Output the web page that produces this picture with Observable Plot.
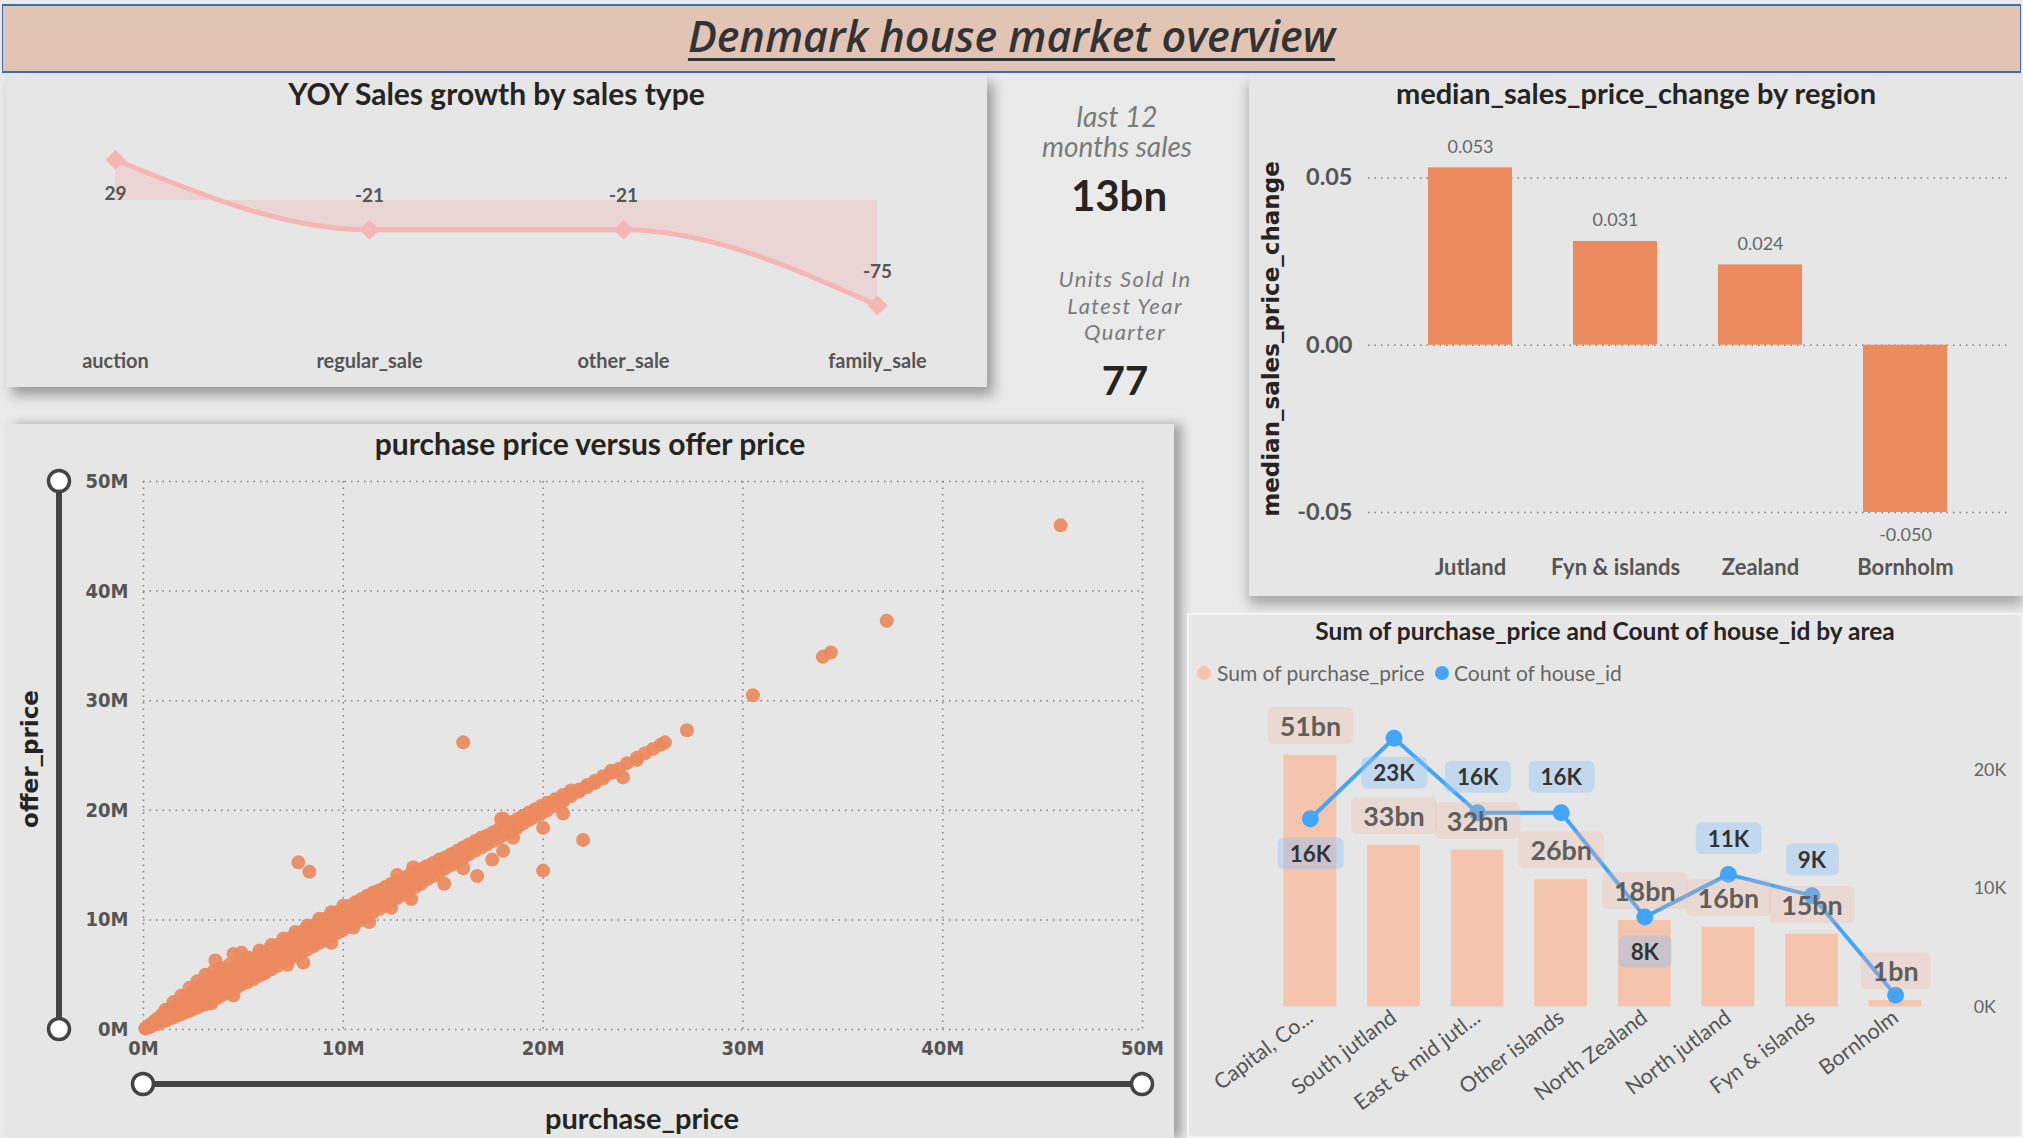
<!DOCTYPE html>
<html><head><meta charset="utf-8">
<script src="https://cdn.jsdelivr.net/npm/d3@7"></script>
<script src="https://cdn.jsdelivr.net/npm/@observablehq/plot@0.6"></script>
<style>
html,body{margin:0;padding:0;}
body{width:2023px;height:1138px;position:relative;overflow:hidden;background:#EAEAEA;font-family:Lato,"Open Sans",sans-serif;}
.panel{position:absolute;background:#E6E6E6;}
.ptitle{position:absolute;left:0;right:0;text-align:center;font-weight:700;color:#252423;font-size:30px;line-height:36px;white-space:nowrap;}
.abs{position:absolute;}
.layer{position:absolute;left:0;top:0;}
.rot{position:absolute;transform:translate(-50%,-50%) rotate(-90deg);white-space:nowrap;font-family:"DejaVu Sans",Verdana,sans-serif;font-weight:bold;color:#252423;font-size:23px;}
.kpi{position:absolute;text-align:center;white-space:nowrap;}
.kpiline{position:absolute;left:1025px;width:200px;text-align:center;white-space:nowrap;font-style:italic;color:#7a7a7a;font-size:22px;line-height:24px;letter-spacing:1.4px;}
.scatter svg text{font-stretch:condensed;}
</style></head><body>

<div id="banner" class="abs" style="left:2px;top:4px;width:2019px;height:69px;box-sizing:border-box;background:#E2C4B5;border-top:2px solid #3C6EB4;border-bottom:2px solid #3C6EB4;border-left:1px solid #3C6EB4;border-right:1px solid #3C6EB4;">
  <div style="position:absolute;left:0;right:0;top:0;text-align:center;line-height:60px;font-family:'Open Sans',sans-serif;font-style:italic;font-weight:600;font-size:43px;color:#333;">
    <span style="text-decoration:underline;text-decoration-thickness:3px;text-underline-offset:6px;">Denmark house market overview</span>
  </div>
</div>

<div id="yoyPanel" class="panel" style="left:6px;top:75px;width:981px;height:312px;box-shadow:6px 8px 12px rgba(0,0,0,0.35);">
  <div class="ptitle" style="top:0;">YOY Sales growth by sales type</div>
</div>

<div class="kpi" style="left:1017px;top:101px;width:200px;font-style:italic;color:#7a7a7a;font-size:28px;line-height:30px;">last 12<br>months sales</div>
<div id="kpi1" class="kpi" style="left:1019px;top:170px;width:200px;font-weight:700;color:#252423;font-size:42px;line-height:50px;"></div>
<div class="kpiline" style="top:267px;">Units Sold In</div>
<div class="kpiline" style="top:293.5px;">Latest Year</div>
<div class="kpiline" style="top:320px;">Quarter</div>
<div id="kpi2" class="kpi" style="left:1025px;top:355px;width:200px;font-weight:700;color:#252423;font-size:40px;line-height:50px;"></div>

<div id="medianPanel" class="panel" style="left:1249px;top:75px;width:774px;height:521px;box-shadow:0 8px 12px rgba(0,0,0,0.3);">
  <div class="ptitle" style="top:0;font-size:29px;">median_sales_price_change by region</div>
  <div class="rot" style="left:22px;top:264px;">median_sales_price_change</div>
</div>

<div id="scatterPanel" class="panel scatter" style="left:6px;top:424px;width:1168px;height:714px;box-shadow:8px 0 10px rgba(0,0,0,0.3);">
  <div class="ptitle" style="top:1px;font-size:30px;">purchase price versus offer price</div>
  <div class="rot" style="left:24px;top:335px;">offer_price</div>
  <div class="abs" style="left:0;top:676px;font-weight:700;color:#252423;font-size:29px;line-height:36px;width:1168px;">
    <span style="position:absolute;left:636px;transform:translateX(-50%);white-space:nowrap;">purchase_price</span></div>
  <svg class="layer" width="1168" height="714" style="pointer-events:none;">
    <line x1="53" y1="57" x2="53" y2="605" stroke="#444" stroke-width="6"/>
    <circle cx="53" cy="57" r="10.5" fill="#fff" stroke="#444" stroke-width="3.5"/>
    <circle cx="53" cy="605" r="10.5" fill="#fff" stroke="#444" stroke-width="3.5"/>
    <line x1="137" y1="660" x2="1136" y2="660" stroke="#444" stroke-width="6"/>
    <circle cx="137" cy="660" r="10.5" fill="#fff" stroke="#444" stroke-width="3.5"/>
    <circle cx="1136" cy="660" r="10.5" fill="#fff" stroke="#444" stroke-width="3.5"/>
  </svg>
</div>

<div id="comboPanel" class="panel" style="left:1187px;top:613px;width:836px;height:525px;box-sizing:border-box;border:2px solid #F4F4F4;">
  <div class="ptitle" style="top:0;font-size:24.5px;line-height:32px;">Sum of purchase_price and Count of house_id by area</div>
  <div class="abs" style="left:8px;top:51px;width:14px;height:14px;border-radius:50%;background:#F5C4AD;"></div>
  <div class="abs" style="left:28px;top:45px;font-size:21px;line-height:26px;color:#666;">Sum of purchase_price</div>
  <div class="abs" style="left:246px;top:51px;width:14px;height:14px;border-radius:50%;background:#41A5FA;"></div>
  <div class="abs" style="left:265px;top:45px;font-size:21px;line-height:26px;color:#666;">Count of house_id</div>
</div>

<script>
// ---------------- data ----------------
const salesTypes = ["auction", "regular_sale", "other_sale", "family_sale"];
const yoyGrowth = [29, -21, -21, -75];

const regions = ["Jutland", "Fyn & islands", "Zealand", "Bornholm"];
const medianPriceChange = [0.053, 0.031, 0.024, -0.050];
const changeTicks = [-0.05, 0, 0.05];

const areas = ["Capital, Copenhagen", "South jutland", "East & mid jutland", "Other islands", "North Zealand", "North jutland", "Fyn & islands", "Bornholm"];
const areaTickLabels = ["Capital, Co...", "South jutland", "East & mid jutl...", "Other islands", "North Zealand", "North jutland", "Fyn & islands", "Bornholm"];
const sumPurchasePriceBn = [51.2, 32.9, 31.9, 25.9, 17.6, 16.2, 14.8, 1.3];
const countHouseIdK = [15.9, 22.7, 16.4, 16.4, 7.6, 11.2, 9.4, 1.0];
const countTicksK = [0, 10, 20];

const kpiLast12MonthsSales = "13bn";
const kpiUnitsSoldLatestQuarter = 77;

const priceTicksM = [0, 10, 20, 30, 40, 50];
// purchase price (M) -> offer prices (M) read along the dense band
const priceBand = [
  [0.1,[0.1,0.1]],[0.3,[0.2,0.3,0.4]],[0.5,[0.4,0.5,0.7]],[0.7,[0.5,0.7,1.0]],[0.9,[0.7,1.0,1.3]],
  [1.1,[0.8,1.2,1.6,1.8]],[1.3,[1.0,1.4,1.8]],[1.5,[1.1,1.6,2.1,2.5]],[1.7,[1.3,1.8,2.4]],[1.9,[1.4,2.0,2.7,3.1]],
  [2.1,[1.6,2.2,2.9]],[2.3,[1.7,2.4,3.2,3.8]],[2.5,[1.9,2.6,3.5]],[2.7,[2.0,2.8,3.7,4.4]],[2.9,[2.2,3.0,4.0]],
  [3.1,[2.3,3.2,4.2,5.0]],[3.3,[2.5,3.4,4.4]],[3.5,[2.7,3.6,4.6,5.3]],[3.7,[2.9,3.8,4.8]],[3.9,[3.1,4.0,5.0,5.6]],
  [4.1,[3.3,4.2,5.2]],[4.3,[3.5,4.4,5.4,5.9]],[4.5,[3.7,4.6,5.6]],[4.7,[3.9,4.8,5.8,6.2]],[4.9,[4.1,5.0,6.0]],
  [5.2,[4.3,5.3,6.2,6.6]],[5.5,[4.6,5.6,6.5]],[5.8,[4.9,5.9,6.8,7.2]],[6.1,[5.2,6.2,7.1]],[6.4,[5.5,6.5,7.4,7.7]],
  [6.7,[5.8,6.8,7.7]],[7.0,[6.1,7.1,8.0,8.3]],[7.3,[6.4,7.4,8.3]],[7.6,[6.7,7.7,8.6,8.9]],[7.9,[7.0,8.0,8.9]],
  [8.2,[7.3,8.3,9.2,9.5]],[8.5,[7.6,8.6,9.5]],[8.8,[7.9,8.9,9.8,10.1]],[9.1,[8.2,9.2,10.1]],[9.4,[8.5,9.5,10.4,10.7]],
  [9.7,[8.8,9.8,10.7]],[10.0,[9.1,10.1,11.0,11.3]],[10.3,[9.4,10.4,11.3]],[10.6,[9.7,10.7,11.6]],[10.9,[10.0,11.0,11.9]],
  [11.2,[10.3,11.3,12.2]],[11.5,[10.7,11.6,12.5]],[11.8,[11.0,11.9,12.7]],[12.1,[11.3,12.2,13.0]],[12.4,[11.7,12.5,13.3]],
  [12.7,[12.0,12.8,13.5]],[13.0,[12.3,13.1,13.8]],[13.3,[12.7,13.4,14.1]],[13.6,[13.0,13.7,14.4]],[13.9,[13.3,14.0,14.6]],
  [14.2,[13.7,14.3,14.9]],[14.5,[14.0,14.6,15.2]],[14.8,[14.3,14.9,15.5]],[15.1,[14.7,15.2,15.7]],[15.4,[15.0,15.5,16.0]],
  [15.7,[15.3,15.8,16.3]],[16.0,[15.6,16.1,16.6]],[16.3,[16.0,16.4,16.9]],[16.6,[16.3,16.7,17.2]],[16.9,[16.6,17.0,17.5]],
  [17.2,[16.9,17.3,17.7]],[17.5,[17.2,17.6,18.0]],[17.8,[17.5,17.9,18.3]],[18.1,[17.8,18.2,18.6]],[18.4,[18.1,18.5,18.9]],
  [18.7,[18.4,18.8,19.2]],[19.0,[18.8,19.1,19.5]],[19.3,[19.1,19.4,19.8]],[19.6,[19.4,19.7,20.1]],[19.9,[19.7,20.0,20.4]],
  [20.2,[20.0,20.3,20.7]],[20.6,[20.4,20.7,21.0]],[21.0,[20.8,21.1,21.4]],[21.4,[21.3,21.5,21.8]],[21.8,[21.7,21.9]],
  [22.2,[22.1,22.3]],[22.6,[22.5,22.7]],[23.0,[22.9,23.1]],[23.4,[23.4,23.6]],[23.8,[23.8]],
  [24.2,[24.3]],[24.7,[24.8]],[25.1,[25.2]],[25.5,[25.6]],[25.9,[26.0]]
];
// isolated sales (purchase M, offer M)
const priceOutliers = [
  [3.4,2.4],[4.5,3.1],[3.6,6.3],[4.5,6.9],[4.9,7.0],[6.0,5.1],[7.2,5.9],[8.0,6.1],[9.4,7.9],[10.5,9.3],
  [11.3,9.8],[12.4,11.1],[13.4,11.9],[11.5,12.3],[12.7,14.1],[13.5,14.8],[14.1,14.8],[15.05,13.3],[16.0,14.7],
  [16.7,14.0],[17.45,15.5],[18.0,16.3],[18.5,17.5],[17.9,19.2],[18.0,19.25],[20.0,18.4],[21.0,19.7],[22.0,17.3],
  [20.0,14.5],[16.0,26.2],[7.75,15.25],[8.3,14.4],[24.0,23.0],[23.5,23.5],[24.7,24.6],[26.1,26.2],[27.2,27.3],
  [30.5,30.5],[34.0,34.0],[34.4,34.4],[37.2,37.3],[45.9,46.0]
];

// ---------------- rendering ----------------
document.getElementById("kpi1").textContent = kpiLast12MonthsSales;
document.getElementById("kpi2").textContent = String(kpiUnitsSoldLatestQuarter);

const baseStyle = {background: "transparent", overflow: "visible", fontFamily: "Lato, 'Open Sans', sans-serif"};

// YOY line chart
const yoyData = salesTypes.map((t, i) => ({type: t, value: yoyGrowth[i]}));
const yoyPlot = Plot.plot({
  width: 981, height: 312, marginTop: 0, marginRight: 0, marginBottom: 42, marginLeft: 0,
  style: baseStyle,
  x: {type: "point", domain: salesTypes, range: [109, 871], padding: 0, label: null},
  y: {domain: [-75, 29], range: [230, 84.3], axis: null},
  marks: [
    Plot.areaY(yoyData, {x: "type", y: "value", curve: "monotone-x", fill: "#F4B2B2", fillOpacity: 0.35}),
    Plot.lineY(yoyData, {x: "type", y: "value", curve: "monotone-x", stroke: "#F7B6B6", strokeWidth: 5}),
    Plot.dot(yoyData, {x: "type", y: "value", symbol: "diamond2", r: 9, fill: "#F7B6B6"}),
    Plot.text(yoyData.filter(d => d.value >= 0), {x: "type", y: "value", text: d => String(d.value), dy: 34, fontSize: 19, fontWeight: "bold", fill: "#555"}),
    Plot.text(yoyData.filter(d => d.value < 0), {x: "type", y: "value", text: d => String(d.value), dy: -34, fontSize: 19, fontWeight: "bold", fill: "#555"}),
    Plot.axisX({tickSize: 0, tickPadding: 8, fontSize: 20, fontWeight: "bold", fill: "#555", label: null})
  ]
});
yoyPlot.classList.add("layer");
document.getElementById("yoyPanel").appendChild(yoyPlot);

// Median price change bar chart
const changeData = regions.map((r, i) => ({region: r, change: medianPriceChange[i]}));
const medianPlot = Plot.plot({
  width: 774, height: 521, marginTop: 0, marginLeft: 119, marginRight: 15, marginBottom: 51,
  style: baseStyle,
  x: {domain: regions, paddingInner: 0.42, paddingOuter: 0.41, label: null},
  y: {domain: [-0.05, 0.05], range: [437, 102.4], label: null},
  marks: [
    Plot.gridY(changeTicks, {stroke: "#777", strokeOpacity: 0.9, strokeDasharray: "1.5,5", strokeWidth: 1.5}),
    Plot.barY(changeData, {x: "region", y: "change", fill: "#EB8B5E"}),
    Plot.text(changeData.filter(d => d.change >= 0), {x: "region", y: "change", text: d => d.change.toFixed(3), dy: -21, fontSize: 18, fill: "#666"}),
    Plot.text(changeData.filter(d => d.change < 0), {x: "region", y: "change", text: d => d.change.toFixed(3), dy: 23, fontSize: 18, fill: "#666"}),
    Plot.axisY(changeTicks, {tickSize: 0, tickPadding: 16, tickFormat: d => d.toFixed(2), fontSize: 23.5, fontWeight: "bold", fill: "#555", label: null}),
    Plot.axisX({tickSize: 0, tickPadding: 14, fontSize: 22, fontWeight: "bold", fill: "#555", label: null})
  ]
});
medianPlot.classList.add("layer");
document.getElementById("medianPanel").appendChild(medianPlot);

// Scatter
const scatterData = priceBand.flatMap(([p, offers]) => offers.map(o => ({purchase: p, offer: o})))
  .concat(priceOutliers.map(([p, o]) => ({purchase: p, offer: o})));
const scatterPlot = Plot.plot({
  width: 1168, height: 714, marginLeft: 137, marginRight: 32, marginTop: 57, marginBottom: 109,
  style: {...baseStyle, fontFamily: "'DejaVu Sans Condensed', 'DejaVu Sans', sans-serif"},
  x: {domain: [0, 50], label: null},
  y: {domain: [0, 50], label: null},
  marks: [
    Plot.gridX(priceTicksM, {stroke: "#777", strokeOpacity: 0.9, strokeDasharray: "1.5,5", strokeWidth: 1.5}),
    Plot.gridY(priceTicksM, {stroke: "#777", strokeOpacity: 0.9, strokeDasharray: "1.5,5", strokeWidth: 1.5}),
    Plot.dot(scatterData, {x: "purchase", y: "offer", r: 7, fill: "#EC8A5E", fillOpacity: 0.92}),
    Plot.axisX(priceTicksM, {tickSize: 0, tickPadding: 11, tickFormat: d => d + "M", fontSize: 20, fontWeight: "bold", fill: "#555", label: null}),
    Plot.axisY(priceTicksM, {tickSize: 0, tickPadding: 15, tickFormat: d => d + "M", fontSize: 20, fontWeight: "bold", fill: "#555", label: null})
  ]
});
scatterPlot.classList.add("layer");
document.getElementById("scatterPanel").insertBefore(scatterPlot, document.querySelector("#scatterPanel svg.layer"));

// Combo chart (four overlaid layers sharing the x scale)
const comboData = areas.map((a, i) => ({area: a, sum: sumPurchasePriceBn[i], count: countHouseIdK[i]}));
const tickLabelOf = new Map(areas.map((a, i) => [a, areaTickLabels[i]]));
const comboX = {type: "band", domain: areas, paddingInner: 0.375, paddingOuter: 0.1875, label: null};
const comboBase = {width: 836, height: 525, marginLeft: 80, marginRight: 81, marginTop: 0, marginBottom: 129.6, style: baseStyle};
const sumY = {domain: [0, 60], range: [395.4, 99], axis: null, label: null};
const countY = {domain: [0, 25], range: [395.4, 97.9], label: null};
const belowLabels = new Set(["Capital, Copenhagen", "South jutland", "North Zealand"]);

const comboBars = Plot.plot({...comboBase, x: comboX, y: sumY, marks: [
  Plot.barY(comboData, {x: "area", y: "sum", fill: "#F5C4AD"}),
  Plot.axisX({tickSize: 0, tickPadding: 8, tickRotate: -37, tickFormat: d => tickLabelOf.get(d), fontSize: 21.5, fill: "#555", label: null})
]});
const comboLine = Plot.plot({...comboBase, x: {...comboX, axis: null}, y: countY, marks: [
  Plot.lineY(comboData, {x: "area", y: "count", stroke: "#41A5FA", strokeWidth: 4}),
  Plot.dot(comboData, {x: "area", y: "count", r: 8.5, fill: "#41A5FA"}),
  Plot.axisY(countTicksK, {anchor: "right", tickSize: 0, tickPadding: 35, tickFormat: d => d + "K", fontSize: 18, fill: "#666", label: null})
]});
const comboSumLabels = Plot.plot({...comboBase, x: {...comboX, axis: null}, y: sumY, marks: [
  Plot.text(comboData, {x: "area", y: "sum", text: d => Math.round(d.sum) + "bn", dy: -28, fontSize: 27, fontWeight: "bold", fill: "#5E5E5E"})
]});
const comboCountLabels = Plot.plot({...comboBase, x: {...comboX, axis: null}, y: {...countY, axis: null}, marks: [
  Plot.text(comboData.filter(d => belowLabels.has(d.area)), {x: "area", y: "count", text: d => Math.round(d.count) + "K", dy: 36, fontSize: 22.5, fontWeight: "bold", fill: "#333"}),
  Plot.text(comboData.filter(d => !belowLabels.has(d.area) && d.count >= 2), {x: "area", y: "count", text: d => Math.round(d.count) + "K", dy: -35, fontSize: 22.5, fontWeight: "bold", fill: "#333"})
]});
const comboPanel = document.getElementById("comboPanel");
for (const p of [comboBars, comboLine, comboSumLabels, comboCountLabels]) {
  p.classList.add("layer");
  p.style.left = "-2px"; p.style.top = "-2px";
  comboPanel.appendChild(p);
}

function boxTexts(svg, fill, opacity, padX, h, rx) {
  svg.querySelectorAll('g[aria-label="text"] text').forEach(t => {
    const b = t.getBBox();
    const r = document.createElementNS("http://www.w3.org/2000/svg", "rect");
    r.setAttribute("x", b.x - padX);
    r.setAttribute("width", b.width + 2 * padX);
    r.setAttribute("y", b.y + b.height / 2 - h / 2);
    r.setAttribute("height", h);
    r.setAttribute("rx", rx);
    r.setAttribute("fill", fill);
    r.setAttribute("fill-opacity", opacity);
    const tr = t.getAttribute("transform");
    if (tr) r.setAttribute("transform", tr);
    t.parentNode.insertBefore(r, t);
  });
}
boxTexts(comboSumLabels, "#F5B4A0", 0.27, 12, 37, 6);
boxTexts(comboCountLabels, "#8CC3FA", 0.4, 12, 32, 6);
</script>
</body></html>
